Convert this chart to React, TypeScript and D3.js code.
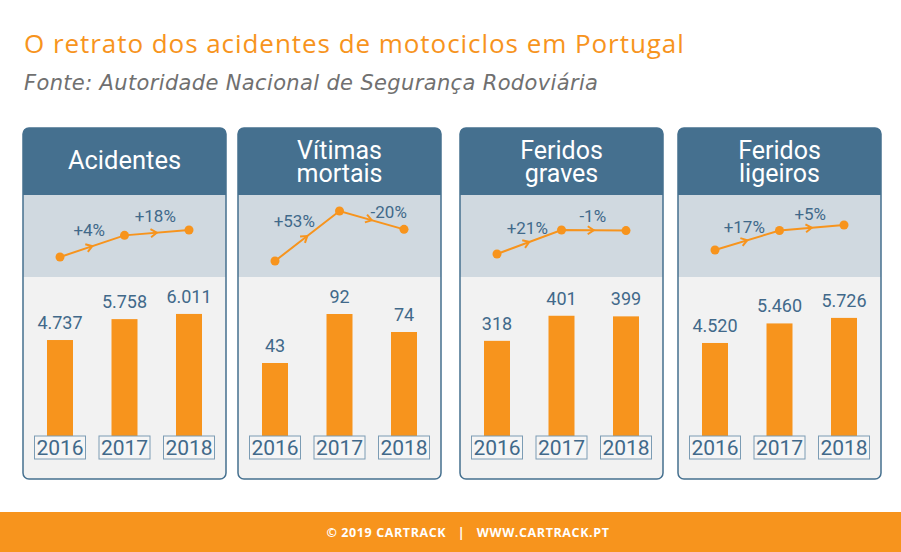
import React from "react";
import * as d3 from "d3";

const years = ["2016", "2017", "2018"];
const panelTitles = [["Acidentes"], ["Vítimas", "mortais"], ["Feridos", "graves"], ["Feridos", "ligeiros"]];
const acidentes = [4737, 5758, 6011];
const vitimasMortais = [43, 92, 74];
const feridosGraves = [318, 401, 399];
const feridosLigeiros = [4520, 5460, 5726];
const acidentesChange = ["+4%", "+18%"];
const vitimasChange = ["+53%", "-20%"];
const gravesChange = ["+21%", "-1%"];
const ligeirosChange = ["+17%", "+5%"];

const seriesValues = [acidentes, vitimasMortais, feridosGraves, feridosLigeiros];
const seriesChanges = [acidentesChange, vitimasChange, gravesChange, ligeirosChange];

// layout
const panelX = [23, 238, 460, 678];
const barDomains = [[0, 6350], [-31, 99], [0, 430], [0, 6250]];
const lineRanges = [[257, 230], [261, 211], [254, 230], [250, 225]];
const labelOffsets = [
  [[-3, -10], [-1.5, -10.5]],
  [[-13, -9], [17, -2]],
  [[-2, -8], [-1, -8]],
  [[-3, -7.5], [-1.5, -8]],
];

const ORANGE = "#f7941d";
const BLUE = "#45708f";
const TEXTBLUE = "#41698a";
const FONT = "Roboto, 'Open Sans', sans-serif";
const TFONT = "'Open Sans', Roboto, sans-serif";

const fmt = d3.formatLocale({ decimal: ",", thousands: ".", grouping: [3], currency: ["", "€"] }).format(",d");

const PW = 203;
const PTOP = 128;
const HEAD_B = 195;
const BAND_B = 277;
const PBOT = 479;
const BAR_BASE = 437;
const BAR_H = 130;
const BAR_W = 26;

function Panel({ idx }: { idx: number }) {
  const x0 = panelX[idx];
  const vals = seriesValues[idx];
  const xs = d3.scalePoint<string>().domain(years).range([x0 + 37, x0 + 166]);
  const yBar = d3.scaleLinear().domain(barDomains[idx]).range([BAR_BASE, BAR_BASE - BAR_H]);
  const ext = d3.extent(vals) as [number, number];
  const yLine = d3.scaleLinear().domain(ext).range(lineRanges[idx]);
  const pts = vals.map((v, i) => [xs(years[i]) as number, yLine(v)] as [number, number]);
  const line = d3.line();
  const r = 6;
  const headPath = `M${x0},${HEAD_B} L${x0},${PTOP + r} Q${x0},${PTOP} ${x0 + r},${PTOP} L${x0 + PW - r},${PTOP} Q${x0 + PW},${PTOP} ${x0 + PW},${PTOP + r} L${x0 + PW},${HEAD_B} Z`;
  const title = panelTitles[idx];
  const cx = x0 + PW / 2;
  return (
    <g>
      <rect x={x0} y={PTOP} width={PW} height={PBOT - PTOP} rx={r} fill="#f2f2f2" />
      <path d={headPath} fill={BLUE} />
      <rect x={x0} y={HEAD_B} width={PW} height={BAND_B - HEAD_B} fill="#d0d9e0" />
      {title.length === 1 ? (
        <text x={cx} y={169} textAnchor="middle" fill="#fff" fontSize={25.5} fontFamily={FONT}>{title[0]}</text>
      ) : (
        <text x={cx} y={159} textAnchor="middle" fill="#fff" fontSize={25} fontFamily={FONT}>
          {title.map((t, i) => (
            <tspan key={i} x={cx} dy={i === 0 ? 0 : 22.5}>{t}</tspan>
          ))}
        </text>
      )}
      <path d={line(pts) || ""} fill="none" stroke={ORANGE} strokeWidth={2} />
      {pts.slice(1).map((p, i) => {
        const a = pts[i];
        const mx = (a[0] + p[0]) / 2;
        const my = (a[1] + p[1]) / 2;
        const ang = (Math.atan2(p[1] - a[1], p[0] - a[0]) * 180) / Math.PI;
        const off = labelOffsets[idx][i];
        return (
          <g key={i}>
            <path d="M-6,-4 L0,0 L-6,4" transform={`translate(${mx},${my}) rotate(${ang})`} fill="none" stroke={ORANGE} strokeWidth={2} />
            <text x={mx + off[0]} y={my + off[1]} textAnchor="middle" fill={TEXTBLUE} fontSize={17} fontFamily={FONT}>{seriesChanges[idx][i]}</text>
          </g>
        );
      })}
      {pts.map((p, i) => (
        <circle key={i} cx={p[0]} cy={p[1]} r={4.5} fill={ORANGE} />
      ))}
      {vals.map((v, i) => {
        const bx = (xs(years[i]) as number) - BAR_W / 2;
        const top = yBar(v);
        return (
          <g key={i}>
            <rect x={bx} y={top} width={BAR_W} height={BAR_BASE - top} fill={ORANGE} />
            <text x={xs(years[i])} y={top - 11} textAnchor="middle" fill={TEXTBLUE} fontSize={18} fontFamily={FONT}>{fmt(v)}</text>
          </g>
        );
      })}
      {years.map((y) => (
        <g key={y}>
          <rect x={(xs(y) as number) - 25.5} y={436} width={51} height={23} fill="#f5f5f5" stroke="#7c9cb4" strokeWidth={1} />
          <text x={xs(y)} y={455} textAnchor="middle" fill={TEXTBLUE} fontSize={21} fontFamily={FONT}>{y}</text>
        </g>
      ))}
      <rect x={x0} y={PTOP} width={PW} height={PBOT - PTOP} rx={r} fill="none" stroke={BLUE} strokeWidth={1.5} />
    </g>
  );
}

export default function App() {
  return (
    <svg width={901} height={552} style={{ position: "absolute", left: 0, top: 0, display: "block" }}>
      <rect width={901} height={552} fill="#fff" />
      <text x={24} y={53} fill={ORANGE} fontSize={26} letterSpacing={0.95} fontFamily={TFONT}>O retrato dos acidentes de motociclos em Portugal</text>
      <text x={24} y={90} fill="#707070" fontSize={21} fontStyle="italic" fontFamily="'DejaVu Sans', sans-serif" letterSpacing={0.35}>Fonte: Autoridade Nacional de Segurança Rodoviária</text>
      {panelX.map((_, i) => (
        <Panel key={i} idx={i} />
      ))}
      <rect x={0} y={512} width={901} height={40} fill={ORANGE} />
      <text x={468} y={537} textAnchor="middle" fill="#fff" fontSize={12.5} fontWeight="bold" letterSpacing={0.6} fontFamily="'Open Sans', sans-serif" style={{ whiteSpace: "pre" }}>
        {"© 2019 CARTRACK   |   WWW.CARTRACK.PT"}
      </text>
    </svg>
  );
}
